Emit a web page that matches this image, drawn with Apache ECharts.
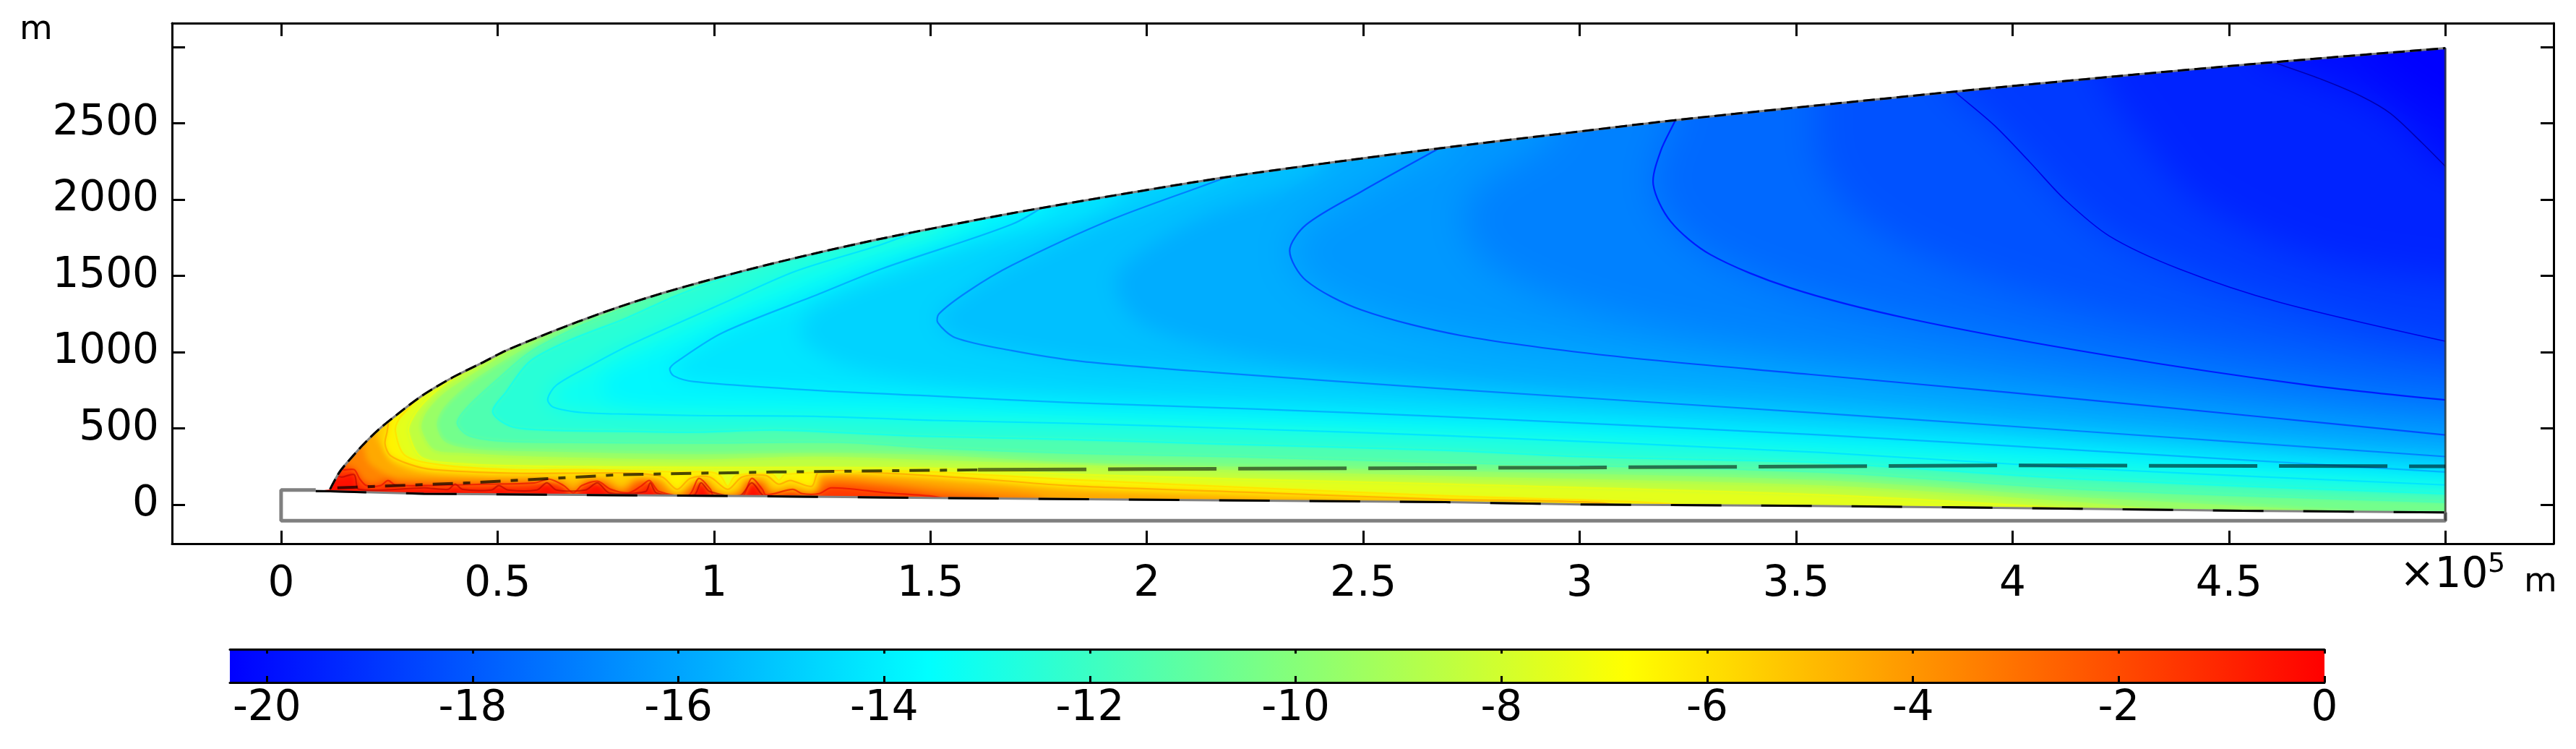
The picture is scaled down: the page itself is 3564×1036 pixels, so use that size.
<!DOCTYPE html>
<html>
<head>
<meta charset="utf-8">
<script src="https://cdn.jsdelivr.net/npm/echarts@6/dist/echarts.min.js"></script>
<style>
html, body { margin: 0; padding: 0; background: #fff; }
#chart { width: 3564px; height: 1036px; }
</style>
</head>
<body>
<div id="chart"></div>
<script>
// x values are in units of 1e5 m, y values in m, temperatures in deg C
var xTicks = [0, 0.5, 1, 1.5, 2, 2.5, 3, 3.5, 4, 4.5, 5];
var xLabels = [0, 0.5, 1, 1.5, 2, 2.5, 3, 3.5, 4, 4.5];
var yTicks = [0, 500, 1000, 1500, 2000, 2500, 3000];
var yLabels = [0, 500, 1000, 1500, 2000, 2500];
var barTicks = [-20, -18, -16, -14, -12, -10, -8, -6, -4, -2, 0];

var surface = [[0.113,101],[0.135,215],[0.157,291],[0.19,395],[0.224,490],[0.269,594],[0.324,712],[0.397,836],[0.464,930],[0.519,1010],[0.6,1105],[0.686,1200],[0.78,1296],[0.875,1382],[0.992,1476],[1.132,1579],[1.26,1665],[1.388,1745],[1.53,1825],[1.688,1911],[1.93,2030],[2.184,2148],[2.43,2245],[2.675,2336],[2.95,2430],[3.221,2521],[3.55,2618],[3.866,2708],[4.23,2806],[4.604,2901],[5,2993]];
var bed = [[0.08,90],[0.113,88],[0.33,72],[1.1,56],[1.5,45],[2.1,31],[2.69,17],[3,2],[3.53,-7],[4.16,-26],[4.53,-39],[5,-50]];
var box = [[0.08,97],[0,97],[0,-105],[5,-105],[5,-50]];
var rightEdge = [[5,2993],[5,-105]];
var dashLeft = [[0.13,111],[0.436,144],[0.788,198],[1.14,215],[1.61,229]];
var dashRight = [[1.61,229],[2,234],[3,244],[4,258],[5,252]];

var isoM19_5 = [[4.82,3000],[4.9,2800],[5,2620]];
var isoM19 = [[4.57,2935],[4.606,2897],[4.716,2786],[4.806,2677],[4.873,2565],[4.945,2375],[5,2218]];
var isoM18_5 = [[4.2,2850],[4.3,2400],[4.42,2000],[4.68,1640],[5,1480]];
var isoM18 = [[3.85,2750],[3.866,2708],[3.958,2487],[4.04,2246],[4.12,2003],[4.224,1761],[4.385,1546],[4.616,1328],[5,1072]];
var isoM17_5 = [[3.55,2660],[3.55,2300],[3.62,1950],[3.78,1650],[4.1,1340],[4.5,1090],[5,880]];
var isoM17 = [[3.225,2560],[3.221,2521],[3.187,2318],[3.17,2100],[3.21,1858],[3.302,1640],[3.485,1423],[3.762,1219],[4.224,977],[4.685,783],[5,687]];
var isoM16_5 = [[2.95,2470],[2.78,2120],[2.73,1900],[2.78,1600],[2.95,1350],[3.25,1130],[3.75,920],[4.3,740],[5,570]];
var isoM16 = [[2.7,2375],[2.675,2336],[2.495,2052],[2.368,1835],[2.33,1665],[2.368,1470],[2.495,1278],[2.725,1110],[3.07,977],[3.53,855],[3.993,736],[4.57,578],[5,458]];
var isoM15_5 = [[2.43,2285],[2.1,1850],[1.93,1500],[1.98,1200],[2.25,980],[2.8,800],[3.5,680],[4.2,530],[5,385]];
var isoM15 = [[2.21,2190],[2.184,2148],[1.919,1870],[1.688,1569],[1.587,1399],[1.52,1252],[1.517,1195],[1.557,1096],[1.688,1011],[1.85,940],[2.149,869],[2.69,760],[3.559,600],[4.16,482],[5,316]];
var isoM14_5 = [[1.95,2075],[1.55,1650],[1.24,1300],[1.2,1100],[1.32,900],[1.7,760],[2.4,670],[3.2,570],[4.1,430],[5,265]];
var isoM14 = [[1.78,1990],[1.688,1838],[1.388,1547],[1.243,1382],[1.02,1128],[0.915,940],[0.898,892],[0.907,845],[0.954,807],[1.232,750],[1.51,712],[1.822,670],[2.256,627],[2.69,577],[3.559,458],[4.16,357],[5,215]];
var isoM13_5 = [[1.62,1900],[1.3,1500],[1,1150],[0.76,860],[0.74,720],[0.85,650],[1.2,640],[1.8,600],[2.7,510],[3.5,400],[4.16,298],[5,170]];
var isoM13 = [[1.52,1850],[1.388,1707],[1.187,1529],[1.02,1319],[0.808,1050],[0.72,920],[0.636,784],[0.616,693],[0.628,641],[0.698,604],[0.808,594],[0.954,585],[1.232,580],[1.51,553],[1.822,534],[2.256,495],[2.69,453],[3.559,343],[4.16,239],[5,130]];
var isoM12 = [[1.16,1620],[1.132,1579],[1.02,1484],[0.909,1366],[0.798,1224],[0.67,1082],[0.575,940],[0.52,740],[0.489,608],[0.531,514],[0.614,490],[0.808,481],[0.954,476],[1.149,490],[1.455,452],[1.822,428],[2.156,400],[2.69,357],[3,316],[3.3,295],[3.559,277],[4.16,168],[5,73]];
var isoM11 = [[0.9,1420],[0.875,1382],[0.787,1280],[0.686,1165],[0.575,1000],[0.503,830],[0.431,641],[0.407,537],[0.431,457],[0.503,419],[0.641,410],[0.954,405],[1.288,410],[1.51,372],[1.822,339],[2.21,315],[2.69,277],[3.559,215],[4.16,102],[5,17]];
var isoM10 = [[0.71,1240],[0.686,1200],[0.614,1096],[0.531,964],[0.447,812],[0.38,641],[0.362,528],[0.38,419],[0.447,372],[0.586,357],[0.954,339],[1.232,348],[1.51,333],[1.822,286],[2.256,255],[2.69,230],[3.559,168],[4.16,56],[4.6,-10],[4.9,-60]];
var isoM9 = [[0.55,1070],[0.531,1020],[0.503,973],[0.431,845],[0.374,736],[0.333,608],[0.322,498],[0.352,357],[0.42,333],[0.586,310],[0.954,291],[1.232,310],[1.51,286],[1.822,258],[2.256,215],[2.69,182],[3.559,121],[4.16,9],[4.4,-45]];
var isoM8 = [[0.49,1000],[0.474,950],[0.436,892],[0.386,807],[0.336,688],[0.305,576],[0.294,481],[0.324,310],[0.42,268],[0.586,253],[0.954,244],[1.232,244],[1.51,239],[1.822,200],[2.256,165],[2.69,135],[3.559,64],[4.16,-30],[4.2,-50]];
var isoM7 = [[0.33,740],[0.297,641],[0.272,561],[0.264,481],[0.286,324],[0.364,263],[0.531,230],[0.698,230],[0.92,215],[0.99,215],[1.015,190],[1.032,120],[1.05,190],[1.135,200],[1.15,160],[1.165,200],[1.4,222],[1.51,215],[1.822,165],[2.256,110],[2.69,58],[3.136,18],[3.3,-15]];
var isoM6 = [[0.25,590],[0.245,480],[0.24,400],[0.252,324],[0.3,262],[0.352,230],[0.531,207],[0.698,207],[0.808,207],[0.88,182],[0.915,101],[0.945,173],[0.99,182],[1.032,101],[1.065,182],[1.12,192],[1.149,135],[1.176,159],[1.226,121],[1.243,215],[1.4,206],[1.62,168],[1.822,125],[2.256,80],[2.69,35],[2.91,26],[3.05,12],[3.12,-20]];
var isoM5 = [[0.215,500],[0.235,372],[0.257,277],[0.319,215],[0.474,192],[0.586,192],[0.648,173],[0.675,144],[0.708,182],[0.753,173],[0.787,126],[0.82,182],[0.875,173],[0.915,78],[0.975,182],[1.004,101],[1.032,78],[1.059,101],[1.076,182],[1.115,173],[1.137,101],[1.176,121],[1.232,101],[1.246,192],[1.4,192],[1.62,144],[1.822,95],[2.256,50],[2.69,27],[2.8,-10]];
var isoM4 = [[0.18,400],[0.189,386],[0.202,277],[0.252,192],[0.307,173],[0.419,166],[0.531,159],[0.586,159],[0.648,150],[0.675,100],[0.708,165],[0.748,159],[0.787,100],[0.82,165],[0.865,159],[0.903,73],[0.92,73],[0.945,150],[0.987,150],[1.009,87],[1.049,78],[1.067,150],[1.115,150],[1.132,97],[1.176,101],[1.232,87],[1.254,173],[1.4,150],[1.566,101],[1.733,64],[1.8,10]];
var isoM3 = [[0.14,300],[0.152,268],[0.174,230],[0.19,168],[0.214,144],[0.247,173],[0.274,150],[0.419,144],[0.531,144],[0.614,159],[0.648,140],[0.675,80],[0.698,144],[0.736,154],[0.787,80],[0.82,144],[0.853,154],[0.881,73],[0.937,64],[0.97,168],[0.998,73],[1.059,64],[1.087,159],[1.115,121],[1.126,73],[1.182,87],[1.232,73],[1.266,144],[1.4,121],[1.51,78],[1.62,54],[1.68,20]];
var isoM2 = [[0.13,260],[0.144,230],[0.169,230],[0.182,168],[0.197,126],[0.23,126],[0.247,159],[0.264,130],[0.336,126],[0.474,135],[0.586,144],[0.62,168],[0.653,126],[0.675,78],[0.695,126],[0.731,154],[0.762,101],[0.803,78],[0.831,121],[0.851,159],[0.873,87],[0.942,64],[0.965,173],[0.992,101],[0.998,64],[1.065,54],[1.087,173],[1.112,101],[1.12,64],[1.182,101],[1.204,73],[1.243,73],[1.271,111],[1.4,78],[1.51,54],[1.56,20]];
var isoM1 = [[0.12,200],[0.14,182],[0.169,197],[0.18,101],[0.33,111],[0.386,101],[0.402,135],[0.419,101],[0.486,97],[0.503,126],[0.524,97],[0.591,97],[0.614,144],[0.636,97],[0.703,97],[0.731,144],[0.758,78],[0.842,87],[0.853,144],[0.867,78],[0.954,64],[0.97,144],[0.99,87],[1.06,60],[1.087,144],[1.109,73],[1.13,20]];

// warmest first, each fill covers everything colder than its isotherm
var fillLevels = [
  [-1, isoM1], [-2, isoM2], [-3, isoM3], [-4, isoM4], [-5, isoM5], [-6, isoM6], [-7, isoM7],
  [-8, isoM8], [-9, isoM9], [-10, isoM10], [-11, isoM11], [-12, isoM12], [-13, isoM13],
  [-13.5, isoM13_5], [-14, isoM14], [-14.5, isoM14_5], [-15, isoM15], [-15.5, isoM15_5],
  [-16, isoM16], [-16.5, isoM16_5], [-17, isoM17], [-17.5, isoM17_5], [-18, isoM18],
  [-18.5, isoM18_5], [-19, isoM19], [-19.5, isoM19_5]
];
// contour lines: whole degrees only, the orange part of the reference shows none
var lineLevels = fillLevels.filter(function (d) {
  return d[0] % 1 === 0 && (d[0] < -5 || d[0] > -3);
});

var barMin = -20.36;

function toHex(r, g, b) {
  return 'rgb(' + Math.round(r * 255) + ',' + Math.round(g * 255) + ',' + Math.round(b * 255) + ')';
}
// colour table of the surface: blue - cyan - yellow - red
function fillColor(t) {
  var s = Math.min(1, Math.max(0, (t - barMin) / -barMin)) * 3;
  if (s < 1) return toHex(0, s, 1);
  if (s < 2) return toHex(s - 1, 1, 2 - s);
  return toHex(1, 3 - s, 0);
}
// contours use the classic jet table over -20..0
function lineColor(t) {
  var s = (t + 20) / 20;
  function c(x) { return Math.min(1, Math.max(0, 1.5 - Math.abs(4 * s - x))); }
  return toHex(c(3), c(2), c(1));
}

var chart = echarts.init(document.getElementById('chart'), null, { renderer: 'canvas' });

var font = 'DejaVu Sans';
var labelSize = 58;
var shadowShift = 6000; // fills are drawn off the page, only their blurred shadow lands on it

function domainClip(api) {
  var pts = surface.map(function (p) { return api.coord(p); });
  var low = bed.slice().reverse().map(function (p) { return api.coord(p); });
  var first = pts[0], last = pts[pts.length - 1];
  var poly = [first, first].concat(pts, [last, last], [low[0], low[0]], low, [low[low.length - 1]]);
  return { type: 'polygon', shape: { points: poly, smooth: 0.3 } };
}

function renderFill(params, api) {
  var idx = api.value(0);
  if (idx < 0) {
    // the warmest part, under all isotherms
    var a = api.coord([0, 3300]), b = api.coord([5.3, -300]);
    return {
      type: 'rect',
      shape: { x: a[0], y: a[1], width: b[0] - a[0], height: b[1] - a[1] },
      style: { fill: fillColor(-0.4) },
      clipPath: domainClip(api)
    };
  }
  var row = fillLevels[idx];
  var next = fillLevels[idx + 1] ? fillLevels[idx + 1][0] : -20.3;
  var iso = row[1];
  var closed = iso.concat([[5.3, iso[iso.length - 1][1]], [5.3, 3300], [iso[0][0], 3300]]);
  var mid = (row[0] + next) / 2;
  var col = fillColor(mid - Math.max(0, -16 - mid) * 0.25);
  var blur = row[0] <= -16 ? 50 : row[0] <= -13 ? 28 : row[0] <= -7 ? 5 : 9;
  return {
    type: 'polygon',
    shape: {
      points: closed.map(function (p) { var c = api.coord(p); return [c[0] + shadowShift, c[1]]; }),
      smooth: 0.3
    },
    style: { fill: col, shadowColor: col, shadowBlur: blur, shadowOffsetX: -shadowShift },
    clipPath: domainClip(api)
  };
}

function renderLine(params, api) {
  var row = lineLevels[api.value(0)];
  return {
    type: 'polyline',
    shape: { points: row[1].map(function (p) { return api.coord(p); }), smooth: 0.3 },
    style: { fill: null, stroke: lineColor(row[0]), lineWidth: row[0] <= -18 ? 1.6 : 2.2, opacity: row[0] > -3 ? 0.6 : 1 },
    clipPath: domainClip(api)
  };
}

function renderBar(params, api) {
  var a = api.coord([barMin, 1]), b = api.coord([0, 0]);
  return {
    type: 'rect',
    shape: { x: a[0], y: a[1], width: b[0] - a[0], height: b[1] - a[1] },
    style: {
      fill: new echarts.graphic.LinearGradient(0, 0, 1, 0, [
        { offset: 0, color: '#0000ff' },
        { offset: 1 / 3, color: '#00ffff' },
        { offset: 2 / 3, color: '#ffff00' },
        { offset: 1, color: '#ff0000' }
      ])
    }
  };
}

function plainLine(data, color, width, dash, smooth, z) {
  return {
    type: 'line', data: data, symbol: 'none', silent: true, smooth: smooth ? 0.3 : false,
    clip: false, z: z, animation: false, xAxisIndex: 0, yAxisIndex: 0,
    lineStyle: { color: color, width: width, type: dash || 'solid', cap: 'butt' }
  };
}

function frameAxis(extra) {
  return Object.assign({
    type: 'value',
    z: 10,
    splitLine: { show: false },
    axisLine: { show: true, onZero: false, lineStyle: { color: '#000', width: 3 } },
    axisLabel: { show: false }
  }, extra);
}

function ticks(values, length) {
  return { show: true, inside: true, length: length, customValues: values, lineStyle: { color: '#000', width: 3 } };
}

var option = {
  animation: false,
  backgroundColor: '#fff',
  grid: [
    { left: 238, right: 31, top: 32, bottom: 284 },
    { left: 318, width: 2898, top: 898, height: 46 }
  ],
  xAxis: [
    frameAxis({
      gridIndex: 0, position: 'bottom', min: -0.252, max: 5.25,
      axisTick: ticks(xTicks, 18),
      axisLabel: {
        show: true, customValues: xLabels, margin: 28, color: '#000',
        fontFamily: font, fontSize: labelSize, formatter: function (v) { return String(v); }
      }
    }),
    frameAxis({ gridIndex: 0, position: 'top', min: -0.252, max: 5.25, axisTick: ticks(xTicks, 18) }),
    frameAxis({
      gridIndex: 1, position: 'bottom', min: barMin, max: 0,
      axisTick: ticks(barTicks, 9),
      axisLabel: {
        show: true, customValues: barTicks, margin: 8, color: '#000',
        fontFamily: font, fontSize: labelSize, formatter: function (v) { return String(v); }
      }
    }),
    frameAxis({ gridIndex: 1, position: 'top', min: barMin, max: 0, axisTick: ticks(barTicks, 6) })
  ],
  yAxis: [
    frameAxis({
      gridIndex: 0, position: 'left', min: -255, max: 3157,
      axisTick: ticks(yTicks, 18),
      axisLabel: {
        show: true, customValues: yLabels, margin: 18, color: '#000',
        fontFamily: font, fontSize: labelSize, formatter: function (v) { return String(v); }
      }
    }),
    frameAxis({ gridIndex: 0, position: 'right', min: -255, max: 3157, axisTick: ticks(yTicks, 18) }),
    { type: 'value', gridIndex: 1, min: 0, max: 1, show: false }
  ],
  series: [
    {
      type: 'custom', coordinateSystem: 'cartesian2d', xAxisIndex: 0, yAxisIndex: 0, silent: true, z: 2,
      renderItem: renderFill, encode: { x: 1, y: 2 },
      data: [[-1, 0, 0]].concat(fillLevels.map(function (d, i) { return [i, 0, 0]; }))
    },
    {
      type: 'custom', coordinateSystem: 'cartesian2d', xAxisIndex: 0, yAxisIndex: 0, silent: true, z: 3,
      renderItem: renderLine, encode: { x: 1, y: 2 },
      data: lineLevels.map(function (d, i) { return [i, 0, 0]; })
    },
    plainLine(box, '#808080', 5, null, false, 4),
    plainLine(rightEdge, 'rgba(50,50,50,0.75)', 3, null, false, 5),
    plainLine(bed, '#808080', 3, null, false, 5),
    plainLine(bed, '#000', 3, [70, 55], false, 6),
    plainLine(surface, '#808080', 3, null, true, 5),
    plainLine(surface, '#000', 3, [16, 7], true, 6),
    plainLine(dashLeft, 'rgba(0,0,0,0.7)', 4, [28, 14, 10, 14], false, 6),
    plainLine(dashRight, 'rgba(0,0,0,0.55)', 5, [150, 30], false, 6),
    {
      type: 'custom', coordinateSystem: 'cartesian2d', xAxisIndex: 2, yAxisIndex: 2, silent: true, z: 1,
      renderItem: renderBar, encode: { x: 0, y: 1 }, data: [[barMin, 0]]
    }
  ],
  graphic: [
    { type: 'text', left: 27, top: 18, style: { text: 'm', font: '47px "DejaVu Sans"', fill: '#000' } },
    { type: 'text', left: 3320, top: 768, style: { text: '×10', font: labelSize + 'px "DejaVu Sans"', fill: '#000' } },
    { type: 'text', left: 3442, top: 762, style: { text: '5', font: '38px "DejaVu Sans"', fill: '#000' } },
    { type: 'text', left: 3492, top: 782, style: { text: 'm', font: '47px "DejaVu Sans"', fill: '#000' } }
  ]
};

chart.setOption(option);
</script>
</body>
</html>
